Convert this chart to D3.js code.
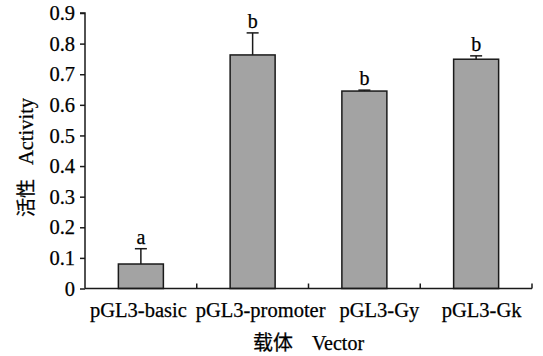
<!DOCTYPE html>
<html lang="zh">
<head>
  <meta charset="UTF-8">
  <title>Vector activity</title>
  <style>
    body { margin: 0; background: #fff; }
    svg { display: block; }
    svg text { font-family: "Liberation Serif", "Times New Roman", serif; fill: #000; stroke: #000; stroke-width: 0.25px; }
  </style>
</head>
<body>
  <svg width="543" height="356"></svg>
  <script src="https://d3js.org/d3.v7.min.js"></script>
  <script>
    // データ
    const vectors = ["pGL3-basic", "pGL3-promoter", "pGL3-Gy", "pGL3-Gk"];
    const activity = [0.08, 0.763, 0.645, 0.749];
    const errors = [0.05, 0.072, 0.003, 0.011];
    const letters = ["a", "b", "b", "b"];
    const yTicks = [0, 0.1, 0.2, 0.3, 0.4, 0.5, 0.6, 0.7, 0.8, 0.9];

    const svg = d3.select("svg");
    const mLeft = 85, mRight = 532, mTop = 13, mBottom = 288.5;
    const serif = '"Liberation Serif", "Times New Roman", serif';

    const x = d3.scaleBand().domain(vectors).range([mLeft, mRight]).padding(0);
    const y = d3.scaleLinear().domain([0, 0.9]).range([mBottom, mTop]);
    const barW = 45;
    const cx = d => x(d) + x.bandwidth() / 2;

    // 棒
    svg.selectAll("rect.bar")
      .data(vectors)
      .enter().append("rect")
      .attr("class", "bar")
      .attr("x", d => cx(d) - barW / 2)
      .attr("y", (d, i) => y(activity[i]))
      .attr("width", barW)
      .attr("height", (d, i) => mBottom - y(activity[i]))
      .attr("fill", "#a3a3a3")
      .attr("stroke", "#1a1a1a")
      .attr("stroke-width", 1.5);

    // エラーバー（上側のみ）
    const eb = svg.selectAll("g.err").data(vectors).enter().append("g").attr("class", "err");
    eb.append("line")
      .attr("x1", cx).attr("x2", cx)
      .attr("y1", (d, i) => y(activity[i]))
      .attr("y2", (d, i) => y(activity[i] + errors[i]))
      .attr("stroke", "#1a1a1a").attr("stroke-width", 1.5);
    eb.append("line")
      .attr("x1", d => cx(d) - 6)
      .attr("x2", d => cx(d) + 6)
      .attr("y1", (d, i) => y(activity[i] + errors[i]))
      .attr("y2", (d, i) => y(activity[i] + errors[i]))
      .attr("stroke", "#1a1a1a").attr("stroke-width", 1.5);

    // 有意差の文字
    svg.selectAll("text.sig")
      .data(vectors)
      .enter().append("text")
      .attr("class", "sig")
      .attr("x", cx)
      .attr("y", (d, i) => y(activity[i] + errors[i]) - 5)
      .attr("text-anchor", "middle")
      .style("font-size", "20px")
      .text((d, i) => letters[i]);

    // Y軸
    const yAxis = svg.append("g")
      .attr("transform", `translate(${mLeft},0)`)
      .call(d3.axisLeft(y).tickValues(yTicks).tickSize(5).tickPadding(5)
        .tickFormat(d => d === 0 ? "0" : d3.format(".1f")(d)));
    yAxis.attr("font-family", serif).attr("font-size", null);
    yAxis.select(".domain").attr("stroke", "#1a1a1a").attr("stroke-width", 1.5)
      .attr("d", `M-5,${mTop}H0V${mBottom}`);
    yAxis.selectAll(".tick line").attr("stroke", "#1a1a1a").attr("stroke-width", 1.5);
    yAxis.selectAll(".tick text")
      .style("font-family", serif)
      .style("font-size", "20.5px");

    // X軸
    const xBounds = vectors.map(d => x(d) + x.bandwidth());
    const xAxis = svg.append("g").attr("transform", `translate(0,${mBottom})`);
    xAxis.append("line").attr("x1", mLeft).attr("x2", mRight).attr("y1", 0).attr("y2", 0)
      .attr("stroke", "#1a1a1a").attr("stroke-width", 1.5);
    xAxis.selectAll("line.tk").data(xBounds).enter().append("line")
      .attr("class", "tk")
      .attr("x1", d => d).attr("x2", d => d).attr("y1", 0).attr("y2", -5)
      .attr("stroke", "#1a1a1a").attr("stroke-width", 1.5);
    // ラベルは元図と同じく少しずらして並べる
    const labelNudge = [-2.5, 8, 15, 5.5];
    xAxis.selectAll("text.cat").data(vectors).enter().append("text")
      .attr("class", "cat")
      .attr("x", (d, i) => cx(d) + labelNudge[i])
      .attr("y", 28.5)
      .attr("text-anchor", "middle")
      .style("font-size", "20.5px")
      .text(d => d);

    // 軸タイトル
    svg.append("text")
      .attr("x", 308.5).attr("y", 350)
      .attr("text-anchor", "middle")
      .style("font-size", "20px")
      .html('<tspan font-family="Noto Sans CJK SC" font-size="20px">载体</tspan><tspan dx="19">Vector</tspan>');
    svg.append("text")
      .attr("transform", "translate(33,157.5) rotate(-90)")
      .attr("text-anchor", "middle")
      .style("font-size", "20.5px")
      .html('<tspan font-family="Noto Sans CJK SC" font-size="19px">活性</tspan><tspan dx="14">Activity</tspan>');
  </script>
</body>
</html>
